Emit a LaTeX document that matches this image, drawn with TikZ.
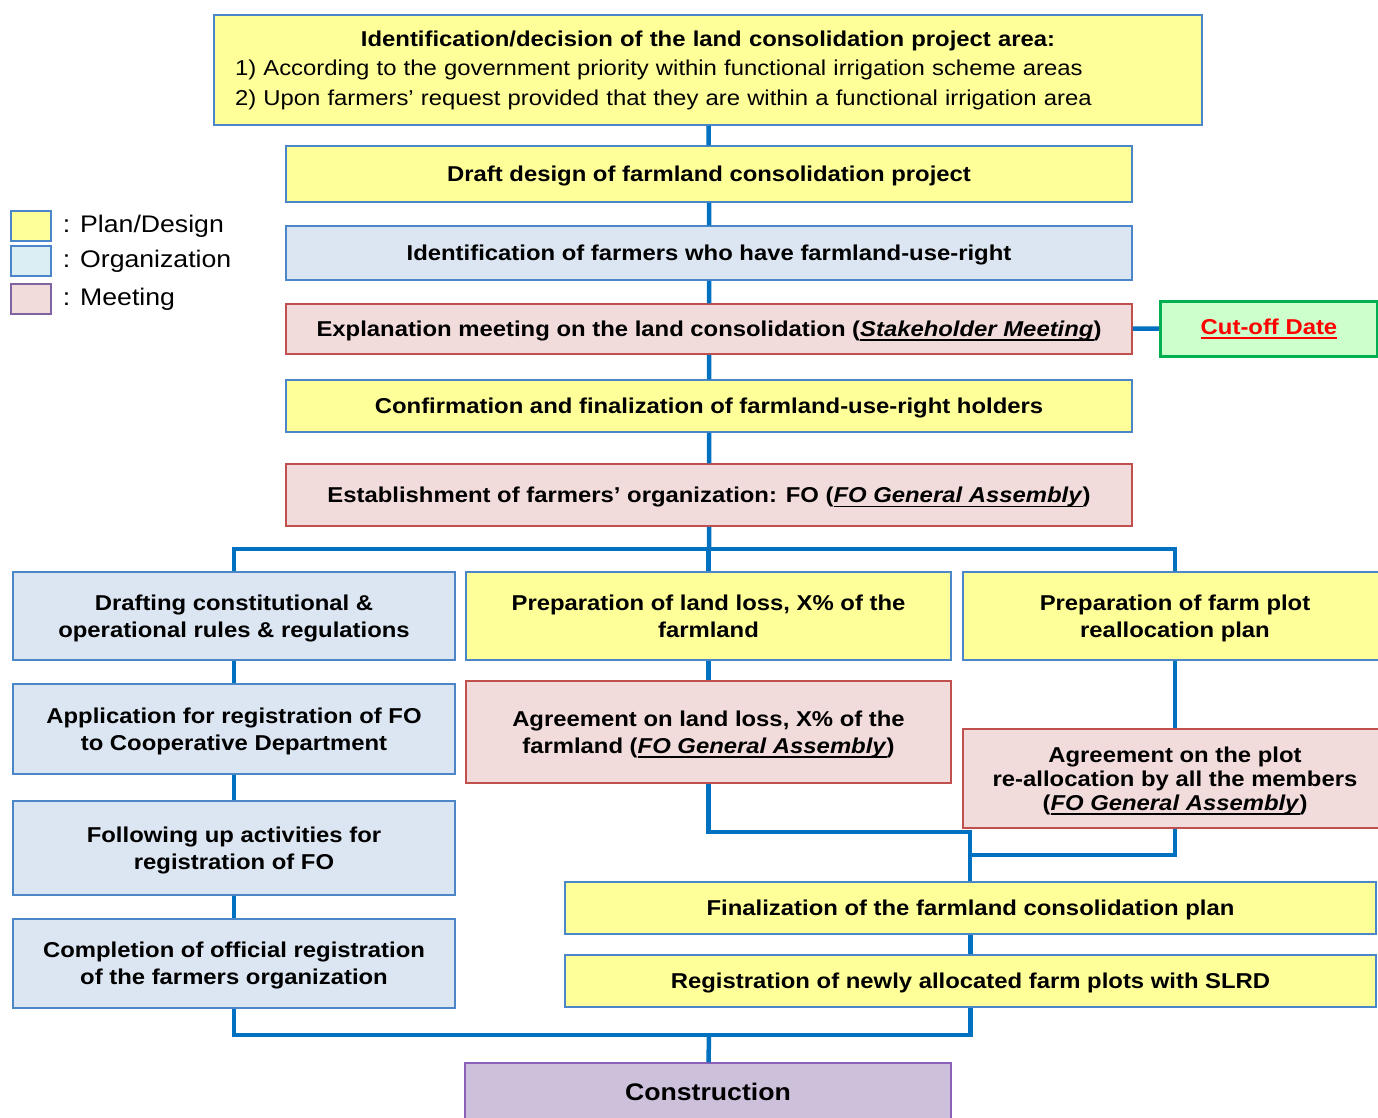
\documentclass[tikz,border=0pt]{standalone}
\usepackage{fontspec}
\setmainfont{Liberation Sans}[FakeStretch=1.11]
\usetikzlibrary{positioning}

\definecolor{planfill}{HTML}{FFFF99}
\definecolor{planline}{HTML}{4A86C8}
\definecolor{orgfill}{HTML}{DCE6F2}
\definecolor{keyorg}{HTML}{DAEEF3}
\definecolor{meetfill}{HTML}{F2DCDB}
\definecolor{meetline}{HTML}{C0504D}
\definecolor{keymeet}{HTML}{8064A2}
\definecolor{linkblue}{HTML}{0070C0}
\definecolor{cutfill}{HTML}{CCFFCC}
\definecolor{cutline}{HTML}{00B050}
\definecolor{buildfill}{HTML}{CCC0DA}
\definecolor{buildline}{HTML}{8C5FB8}

\newsavebox{\ulbox}
\newcommand{\uln}[1]{\sbox{\ulbox}{#1}\leavevmode\rlap{\raisebox{-4.5pt}{\rule{\wd\ulbox}{1.8pt}}}\usebox{\ulbox}}
\newcommand{\boxfont}{\fontsize{21.5}{27}\selectfont\bfseries}
\newcommand{\keyfont}{\fontsize{24}{28}\selectfont}
\newcommand{\foga}{\uln{\textit{FO General Assembly}}}

\begin{document}
\begin{tikzpicture}[x=1pt, y=-1pt,
    plan/.style={draw=planline, fill=planfill, line width=1.5pt, inner sep=0pt, align=center,
                 text depth=0pt, font=\boxfont},
    org/.style={plan, fill=orgfill},
    meet/.style={plan, draw=meetline, fill=meetfill},
    link/.style={draw=linkblue, line width=4.5pt},
    key/.style={draw=planline, line width=1.5pt, minimum width=40pt, minimum height=30pt, inner sep=0pt},
    keytext/.style={font=\keyfont, inner sep=0pt, anchor=west}]
    \useasboundingbox (0,0) rectangle (1378,1117);

    % Legend
    \node[key, fill=planfill] (keyplan) at (31,226) {};
    \node[key, fill=keyorg] (keyorg) at (31,261) {};
    \node[key, draw=keymeet, fill=meetfill] (keymeet) at (31,299) {};
    \node[keytext, right=11pt of keyplan] (keyplantext) {: Plan/Design};
    \node[keytext, right=11pt of keyorg] (keyorgtext) {: Organization};
    \node[keytext, right=11pt of keymeet] (keymeettext) {: Meeting};

    % Main chain
    \node[plan, minimum width=988pt, minimum height=110pt, text width=946pt, align=left, text depth={},
          font=\fontsize{21.5}{29.5}\selectfont] (area) at (708,70)
        {\makebox[\linewidth]{\bfseries Identification/decision of the land consolidation project area:}\\
         1) According to the government priority within functional irrigation scheme areas\\
         2) Upon farmers’ request provided that they are within a functional irrigation area};
    \node[plan, minimum width=846pt, minimum height=56pt] (draft) at (709,174)
        {Draft design of farmland consolidation project};
    \node[org, minimum width=846pt, minimum height=54pt] (ident) at (709,253)
        {Identification of farmers who have farmland-use-right};
    \node[meet, minimum width=846pt, minimum height=50pt] (explain) at (709,329)
        {Explanation meeting on the land consolidation (\uln{\textit{Stakeholder Meeting}})};
    \node[draw=cutline, fill=cutfill, line width=3pt, minimum width=217pt, minimum height=55pt,
          inner sep=0pt, font=\boxfont, text=red] (cutoff) at (1269,328.5)
        {\uln{Cut-off Date}};
    \node[plan, minimum width=846pt, minimum height=52pt] (confirm) at (709,406)
        {Confirmation and finalization of farmland-use-right holders};
    \node[meet, minimum width=846pt, minimum height=62pt] (establish) at (709,495)
        {Establishment of farmers’ organization: FO (\foga)};

    % Three branches
    \node[org, minimum width=442pt, minimum height=88pt] (rules) at (234,616)
        {Drafting constitutional \&\\operational rules \& regulations};
    \node[plan, minimum width=485pt, minimum height=88pt] (lossplan) at (708.5,616)
        {Preparation of land loss, X\% of the\\farmland};
    \node[plan, minimum width=424pt, minimum height=88pt] (plotplan) at (1175,616)
        {Preparation of farm plot\\reallocation plan};

    \node[org, minimum width=442pt, minimum height=90pt] (apply) at (234,729)
        {Application for registration of FO\\to Cooperative Department};
    \node[org, minimum width=442pt, minimum height=94pt] (follow) at (234,848)
        {Following up activities for\\registration of FO};
    \node[org, minimum width=442pt, minimum height=89pt] (complete) at (234,963.5)
        {Completion of official registration\\of the farmers organization};

    \node[meet, minimum width=485pt, minimum height=102pt] (lossagree) at (708.5,732)
        {Agreement on land loss, X\% of the\\farmland (\foga)};
    \node[meet, minimum width=424pt, minimum height=99pt,
          font=\fontsize{21.5}{24}\selectfont\bfseries] (plotagree) at (1175,778.5)
        {Agreement on the plot\\re-allocation by all the members\\(\foga)};

    \node[plan, minimum width=811pt, minimum height=52pt] (final) at (970.5,908)
        {Finalization of the farmland consolidation plan};
    \node[plan, minimum width=811pt, minimum height=52pt] (register) at (970.5,981)
        {Registration of newly allocated farm plots with SLRD};
    \node[draw=buildline, fill=buildfill, line width=1.5pt, minimum width=486pt, minimum height=58pt,
          inner sep=0pt, text depth=0pt, font=\fontsize{24}{28}\selectfont\bfseries] (build) at (708,1092)
        {Construction};

    % Connectors
    \coordinate (split) at (709,549);
    \coordinate (join) at (970,832);
    \coordinate (join2) at (970,855);
    \coordinate (merge) at (709,1035);
    \draw[link] (area) -- (draft) -- (ident) -- (explain) -- (confirm) -- (establish) -- (split);
    \draw[link] (explain) -- (cutoff);
    \draw[link] (rules.north) |- (split) -| (plotplan.north);
    \draw[link] (lossplan.north) -- (lossplan.north |- split);
    \draw[link] (rules) -- (apply) -- (follow) -- (complete);
    \draw[link] (lossplan) -- (lossagree);
    \draw[link] (plotplan) -- (plotagree);
    \draw[link] (lossagree.south) |- (join) -- (join |- final.north);
    \draw[link] (plotagree.south) |- (join2);
    \draw[link] (final) -- (register);
    \draw[link] (complete.south) |- (merge) -| (register.south);
    \draw[link] (merge) -- (build);
\end{tikzpicture}
\end{document}
